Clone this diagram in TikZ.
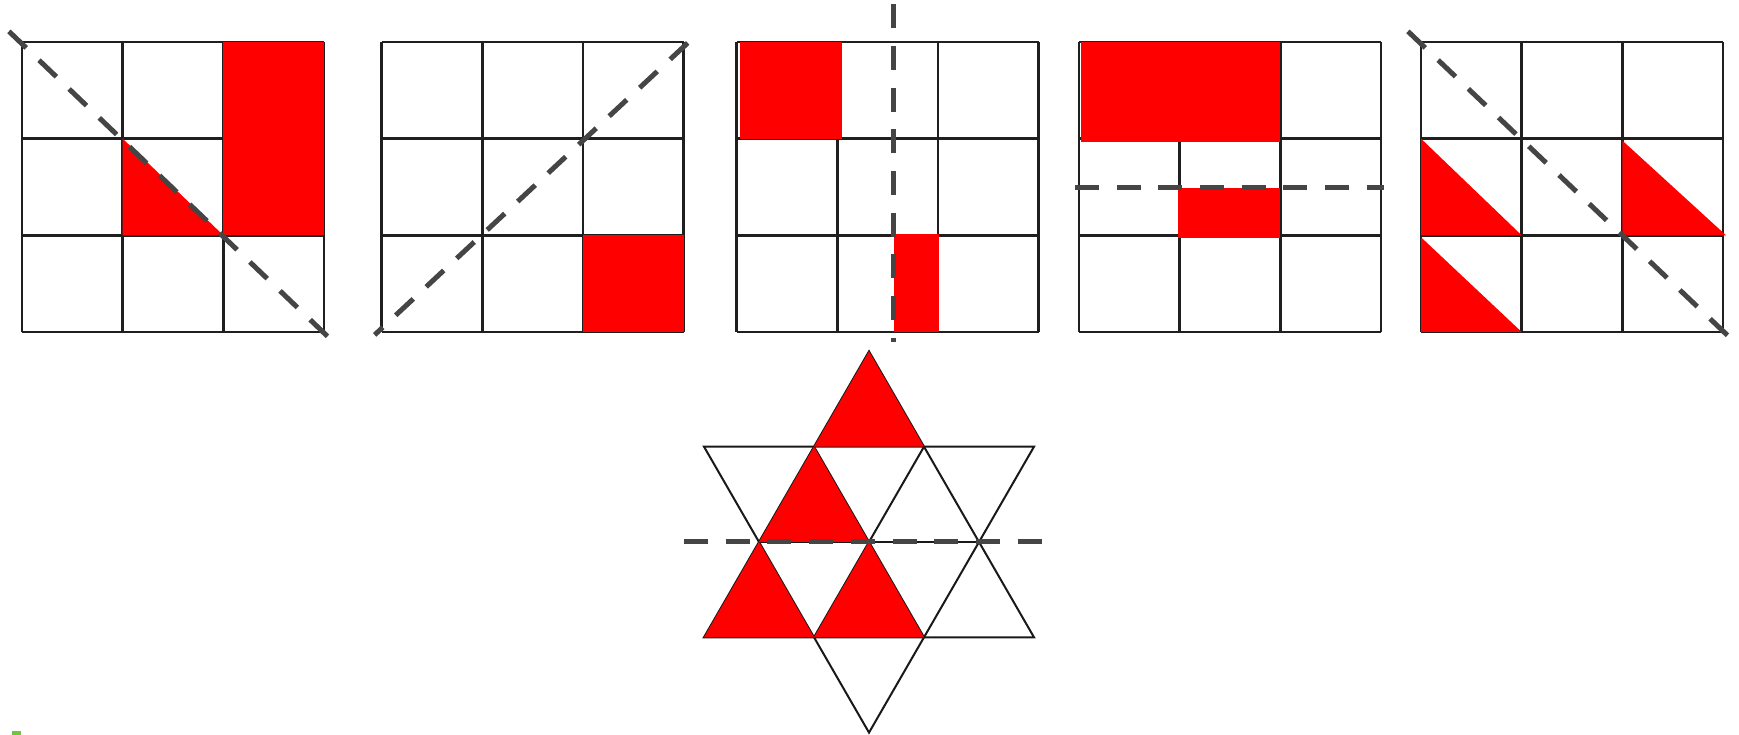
\documentclass[tikz,border=0pt]{standalone}
\usetikzlibrary{calc}
\definecolor{markgreen}{RGB}{110,200,60}

\begin{document}
\begin{tikzpicture}[x=1pt,y=1pt,
  gridline/.style={line width=2.6pt, color=black!88, step={(1,1)}},
  starline/.style={line width=2pt, color=black!90},
  mirror/.style={line width=5pt, color=black!73, dash pattern=on 24pt off 17.7pt},
  cell/.style={x=100.67pt, y=96.67pt}]
\useasboundingbox (0,0) rectangle (1739,735);

% first grid
\begin{scope}[xshift=22pt, yshift=403pt, cell]
  \draw[gridline] (0,0) grid (3,3);
  \fill[red] (2,1) rectangle (3,3);
  \fill[red] (1,1) -- (1,2) -- (2,1) -- cycle;
  \draw[mirror] (-0.13,3.11) -- (3.04,-0.05);
\end{scope}

% second grid
\begin{scope}[xshift=381.7pt, yshift=403pt, cell]
  \draw[gridline] (0,0) grid (3,3);
  \fill[red] (2,0) rectangle (3,1);
  \draw[mirror] (3.04,2.99) -- (-0.07,-0.03);
\end{scope}

% third grid
\begin{scope}[xshift=736.7pt, yshift=403pt, cell]
  \draw[gridline] (0,0) grid (3,3);
  \fill[red] (0.03,2) rectangle (1.05,3);
  \fill[red] (1.56,0) rectangle (2.01,1.01);
  \draw[mirror] (1.553,3.39) -- (1.553,-0.10);
\end{scope}

% fourth grid
\begin{scope}[xshift=1079pt, yshift=403pt, cell]
  \draw[gridline] (0,0) grid (3,3);
  \fill[red] (0.02,1.965) rectangle (2,3);
  \fill[red] (0.98,0.97) rectangle (2,1.49);
  \draw[mirror] (-0.04,1.49) -- (3.03,1.49);
\end{scope}

% fifth grid
\begin{scope}[xshift=1421pt, yshift=403pt, cell]
  \draw[gridline] (0,0) grid (3,3);
  \fill[red] (0,1) -- (0,2) -- (1,1) -- cycle;
  \fill[red] (0,0) -- (0,0.98) -- (1,0) -- cycle;
  \fill[red] (2,1) -- (2,1.98) -- (3.03,1) -- cycle;
  \draw[mirror] (-0.13,3.11) -- (3.06,-0.05);
\end{scope}

% star
\coordinate (T) at (869,383.6);
\coordinate (B) at (869,2.4);
\coordinate (UL) at (704,288.3);
\coordinate (U1) at (814,288.3);
\coordinate (U2) at (924,288.3);
\coordinate (UR) at (1034,288.3);
\coordinate (ML) at (759,193);
\coordinate (C) at (869,193);
\coordinate (MR) at (979,193);
\coordinate (LL) at (704,97.7);
\coordinate (L1) at (814,97.7);
\coordinate (L2) at (924,97.7);
\coordinate (LR) at (1034,97.7);
  \draw[starline] (T) -- (LL) -- (LR) -- cycle;
  \draw[starline] (UL) -- (UR) -- (B) -- cycle;
  \draw[starline] (ML) -- (MR);
  \draw[starline] (U1) -- (L2);
  \draw[starline] (U2) -- (L1);
   %\fill[red] (U2) -- (C) -- (MR) -- cycle;
   \fill[red] (T) -- (U1) -- (U2) -- cycle;
   \fill[red] (U1) -- (ML) -- (C) -- cycle;
   \fill[red] (ML) -- (LL) -- (L1) -- cycle;
   \fill[red] (C) -- (L1) -- (L2) -- cycle;
  \draw[mirror] (684,193) -- (1043,193);

\fill[markgreen] (12,0) rectangle (21,3.5);
\end{tikzpicture}
\end{document}
